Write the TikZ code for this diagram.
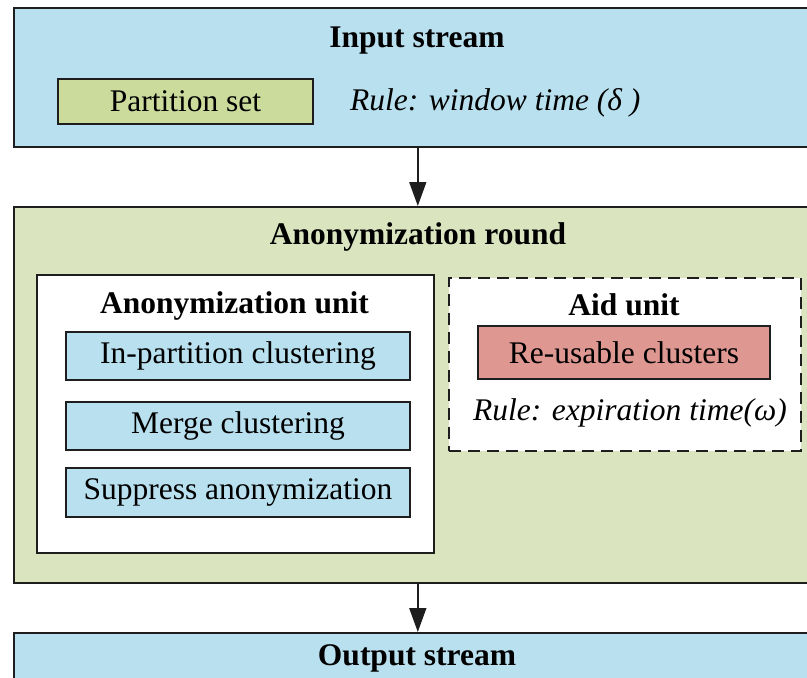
\documentclass[tikz,border=0pt]{standalone}
\usepackage{fontspec}
\setmainfont{Liberation Serif}
\usetikzlibrary{arrows.meta}
\definecolor{blueF}{HTML}{B8E0EE}
\definecolor{greenF}{HTML}{DAE5C0}
\definecolor{partF}{HTML}{CBDB9C}
\definecolor{redF}{HTML}{DF9792}
\definecolor{lineC}{HTML}{1E1E1E}
\begin{document}
\begin{tikzpicture}[x=1pt,y=-1pt,
  box/.style={draw=lineC, line width=1.6pt, inner sep=0pt, anchor=north west},
  sbox/.style={draw=lineC, line width=1.6pt, inner sep=0pt, anchor=center, font=\fontsize{31.5}{36}\selectfont},
  ttl/.style={font=\fontsize{31.5}{36}\selectfont\bfseries, inner sep=0pt, anchor=base},
  rl/.style={font=\fontsize{31.5}{36}\selectfont\itshape, inner sep=0pt},
  arr/.style={-{Triangle[length=24pt,width=17pt]}, line width=1.6pt, draw=lineC}]
\useasboundingbox (0,0) rectangle (807,678);
\clip (0,0) rectangle (807,678);
% Input stream
\node[box, fill=blueF, minimum width=808pt, minimum height=139pt] (input) at (13,7) {};
\node[ttl] (inT) at (417,47) {Input stream};
\node[sbox, fill=partF, minimum width=255pt, minimum height=45pt] (part) at (185.5,101.5) {Partition set};
\node[rl, anchor=base west] (r1) at (350,110) {Rule: window time (δ )};
% Anonymization round
\node[box, fill=greenF, minimum width=808pt, minimum height=376pt] (round) at (13,206) {};
\node[ttl] (rT) at (418,244) {Anonymization round};
\node[box, fill=white, minimum width=397pt, minimum height=278pt] (unit) at (36,274) {};
\node[ttl] (uT) at (234.5,313) {Anonymization unit};
\node[sbox, fill=blueF, minimum width=344pt, minimum height=48pt] (ip) at (238,356) {In-partition clustering};
\node[sbox, fill=blueF, minimum width=344pt, minimum height=48pt] (mc) at (238,426) {Merge clustering};
\node[sbox, fill=blueF, minimum width=344pt, minimum height=49pt] (sa) at (238,492.5) {Suppress anonymization};
\node[box, fill=white, dash pattern=on 12pt off 7pt, minimum width=352pt, minimum height=173pt] (aid) at (448,277) {};
\node[ttl] (aT) at (624,315) {Aid unit};
\node[sbox, fill=redF, minimum width=292pt, minimum height=53pt] (ru) at (624,352.5) {Re-usable clusters};
\node[rl, anchor=base] (r2) at (630,420) {Rule: expiration time(ω)};
% Output stream
\node[box, fill=blueF, minimum width=808pt, minimum height=100pt] (output) at (13,632) {};
\node[ttl] (oT) at (417,665) {Output stream};
% arrows
\draw[arr] (input.south) -- (round.north);
\draw[arr] (round.south) -- (output.north);
\end{tikzpicture}
\end{document}
